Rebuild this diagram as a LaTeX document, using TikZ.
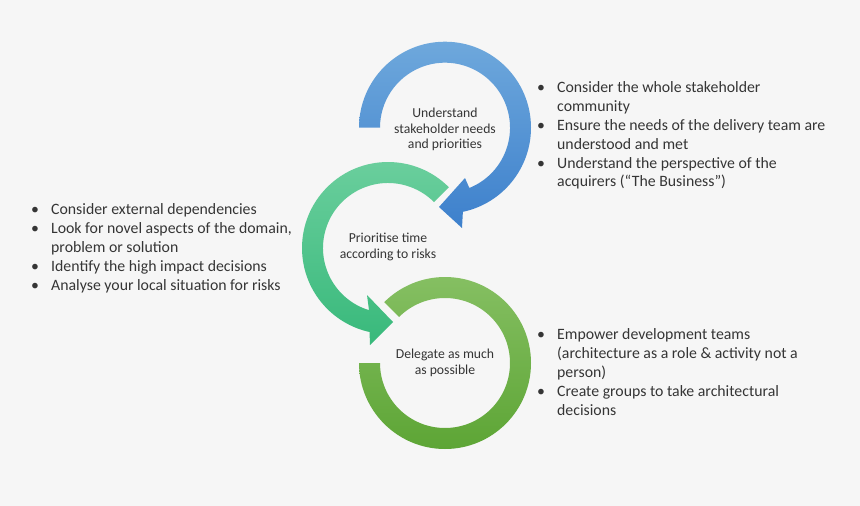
\documentclass[tikz,border=0pt]{standalone}
\usepackage{fontspec}
\setmainfont{Carlito}
\usepackage{tikz}

\definecolor{bgGray}{HTML}{F6F6F6}
\definecolor{txtGray}{HTML}{353535}
\definecolor{blueTop}{HTML}{6EA8DC}
\definecolor{blueBot}{HTML}{3D80CC}
\definecolor{tealTop}{HTML}{6CCF9E}
\definecolor{tealBot}{HTML}{38B97B}
\definecolor{limeTop}{HTML}{85BF62}
\definecolor{limeBot}{HTML}{5DA535}
\newcommand{\bul}{\makebox[20pt][l]{\textbullet}}
\newcommand{\ind}{\hspace*{20pt}}

\begin{document}
\begin{tikzpicture}[x=1pt, y=1pt,
    ringlabel/.style={align=center, inner sep=0pt, text=txtGray, font=\fontsize{13.7}{15.5}\selectfont},
    bulletlist/.style={anchor=base west, inner sep=0pt, text=txtGray, font=\fontsize{15.8}{19}\selectfont}]
    \fill[bgGray] (0,0) rectangle (860,-506);
    \useasboundingbox (0,0) rectangle (860,-506);
    \coordinate (understand) at (445,-127.7);
    \coordinate (prioritise) at (388,-248);
    \coordinate (delegate) at (445,-363);
    % green ring, open at the upper left
    \shade[top color=limeTop, bottom color=limeBot]
        ([shift={(180:86)}]delegate) arc[start angle=180, end angle=495, radius=86]
        -- ([shift={(135:65)}]delegate) arc[start angle=495, end angle=180, radius=65] -- cycle;
    % teal arrow
    \shade[top color=tealTop, bottom color=tealBot]
        ([shift={(45:86)}]prioritise) arc[start angle=45, end angle=257.6, radius=86]
        -- (370,-345) -- (393,-322) -- (367,-295)
        -- ([shift={(253:65)}]prioritise) arc[start angle=253, end angle=45, radius=65] -- cycle;
    % blue arrow
    \shade[top color=blueTop, bottom color=blueBot]
        ([shift={(180:86)}]understand) arc[start angle=180, end angle=-78, radius=86]
        -- (462,-228) -- (439,-207) -- (465,-178)
        -- ([shift={(-68:65)}]understand) arc[start angle=-68, end angle=180, radius=65] -- cycle;
    \node[ringlabel] (understandText) at ([yshift=-2]understand) {Understand\\stakeholder needs\\and priorities};
    \node[ringlabel] (prioritiseText) at ([yshift=1]prioritise) {Prioritise time\\according to risks};
    \node[ringlabel] (delegateText) at (delegate) {Delegate as much\\as possible};
    \node[bulletlist] (stakeList) at (537,-92) {\begin{tabular}[t]{@{}l@{}}
        \bul Consider the whole stakeholder\\
        \ind community\\
        \bul Ensure the needs of the delivery team are\\
        \ind understood and met\\
        \bul Understand the perspective of the\\
        \ind acquirers (“The Business”)
    \end{tabular}};
    \node[bulletlist] (riskList) at (31,-214) {\begin{tabular}[t]{@{}l@{}}
        \bul Consider external dependencies\\
        \bul Look for novel aspects of the domain,\\
        \ind problem or solution\\
        \bul Identify the high impact decisions\\
        \bul Analyse your local situation for risks
    \end{tabular}};
    \node[bulletlist] (teamList) at (537,-339) {\begin{tabular}[t]{@{}l@{}}
        \bul Empower development teams\\
        \ind (architecture as a role \& activity not a\\
        \ind person)\\
        \bul Create groups to take architectural\\
        \ind decisions
    \end{tabular}};
\end{tikzpicture}
\end{document}
